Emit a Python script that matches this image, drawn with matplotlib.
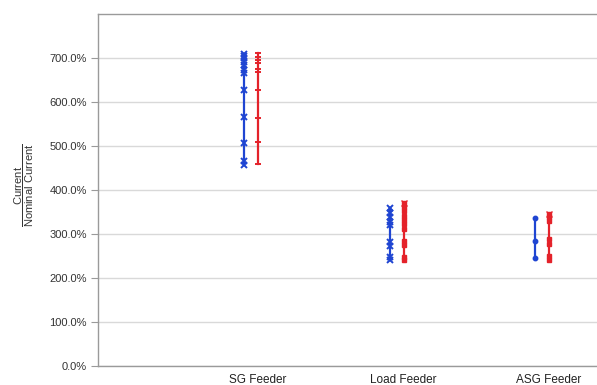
import matplotlib
matplotlib.use("Agg")
import matplotlib.pyplot as plt

plt.rcParams["font.family"] = ["Liberation Sans", "DejaVu Sans"]
plt.rcParams["mathtext.fontset"] = "custom"
plt.rcParams["mathtext.rm"] = "Liberation Sans"

categories = ["SG Feeder", "Load Feeder", "ASG Feeder"]

# current / nominal current in %
blue_sg = [709, 704, 699, 692, 684, 673, 665, 627, 567, 506, 467, 457]
red_sg = [712, 703, 695, 688, 676, 669, 627, 563, 510, 459]
blue_load = [358, 348, 338, 327, 320, 282, 272, 248, 240]
red_load = [370, 362, 352, 342, 332, 322, 312, 285, 275, 248, 242]
blue_asg = [336, 285, 246]
red_asg = [345, 338, 330, 288, 277, 250, 242]

yticks = [0, 100, 200, 300, 400, 500, 600, 700]

BLUE = "#1f45d2"
RED = "#e4222a"
GRID = "#d9d9d9"
AXC = "#9a9a9a"

fig = plt.figure(figsize=(5.97, 3.85), dpi=100)
ax = fig.add_axes([98 / 597, 19 / 385, 499 / 597, 352 / 385])

blue_off = -0.096
series = [
    (0, blue_sg, BLUE, "x", blue_off),
    (0, red_sg, RED, "_", 0.0),
    (1, blue_load, BLUE, "x", blue_off),
    (1, red_load, RED, "s", 0.0),
    (2, blue_asg, BLUE, "o", blue_off),
    (2, red_asg, RED, "s", 0.0),
]
for i, vals, col, mk, off in series:
    x = i + off
    ax.plot([x, x], [min(vals), max(vals)], color=col, lw=1.6, zorder=3)
    ms = {"x": 5, "_": 5, "s": 2.6, "o": 3.2}[mk]
    mew = 1.4 if mk in ("x", "_") else 1.0
    ax.plot([x] * len(vals), vals, ls="none", marker=mk, color=col,
            ms=ms, mew=mew, zorder=4)
    if mk == "s":
        ax.plot([x], [max(vals)], ls="none", marker="x", color=col,
                ms=4, mew=1.0, zorder=4)

ax.set_xlim(-1.10, 2.33)
ax.set_ylim(0, 800)
ax.set_yticks(yticks)
ax.set_yticklabels([f"{v:.1f}%" for v in yticks], fontsize=8, color="#333333")
ax.set_xticks(range(len(categories)))
ax.set_xticklabels(categories, fontsize=8.5, color="#222222")
ax.tick_params(axis="x", length=0, pad=6)
ax.tick_params(axis="y", length=5, width=0.8, color=AXC, pad=3)

ax.grid(axis="y", color=GRID, lw=1.0)
ax.set_axisbelow(True)
for side in ("left", "bottom", "top"):
    ax.spines[side].set_color(AXC)
    ax.spines[side].set_linewidth(1.0)
ax.spines["right"].set_visible(False)

fig.text(24 / 597, 1 - 185 / 385,
         r"$\dfrac{\mathrm{Current}}{\mathrm{Nominal\ Current}}$",
         rotation=90, ha="center", va="center", fontsize=8, color="#333333")

fig.savefig("out.png", dpi=100, facecolor="white")
